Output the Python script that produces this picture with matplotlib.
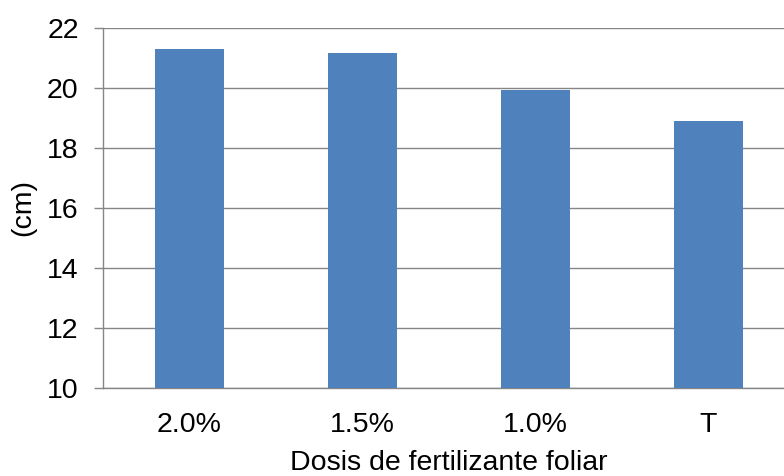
import numpy as np
import matplotlib.pyplot as plt

plt.rcParams['font.family'] = ['Liberation Sans', 'DejaVu Sans']

# values
dosis = ['2.0%', '1.5%', '1.0%', 'T']
altura = [21.3, 21.15, 19.92, 18.9]

bar_color = '#4F81BD'
grid_color = '#868686'
fs = 20.5

fig = plt.figure(figsize=(7.84, 4.76), dpi=100)
ax = fig.add_axes([103 / 784, 88 / 476, 692 / 784, 360.5 / 476])

x = np.arange(len(dosis))
ax.bar(x, altura, width=0.4, color=bar_color, zorder=3)

ax.set_xlim(-0.5, len(dosis) - 0.5)
ax.set_ylim(10, 22)
ax.set_yticks(np.arange(10, 23, 2))
ax.set_xticks(x)
ax.set_xticklabels(dosis)

ax.yaxis.grid(True, color=grid_color, linewidth=1.0, zorder=0)
ax.set_axisbelow(True)

for side in ['top', 'right']:
    ax.spines[side].set_visible(False)
for side in ['left', 'bottom']:
    ax.spines[side].set_color(grid_color)
    ax.spines[side].set_linewidth(1.0)

ax.tick_params(axis='y', length=6.5, width=1.0, color=grid_color, pad=11,
               labelsize=fs)
ax.tick_params(axis='x', length=0, pad=17, labelsize=fs)

ax.set_xlabel('Dosis de fertilizante foliar', fontsize=fs, labelpad=9)
ax.set_ylabel('(cm)', fontsize=fs, labelpad=8)

fig.savefig('out.png', dpi=100)
